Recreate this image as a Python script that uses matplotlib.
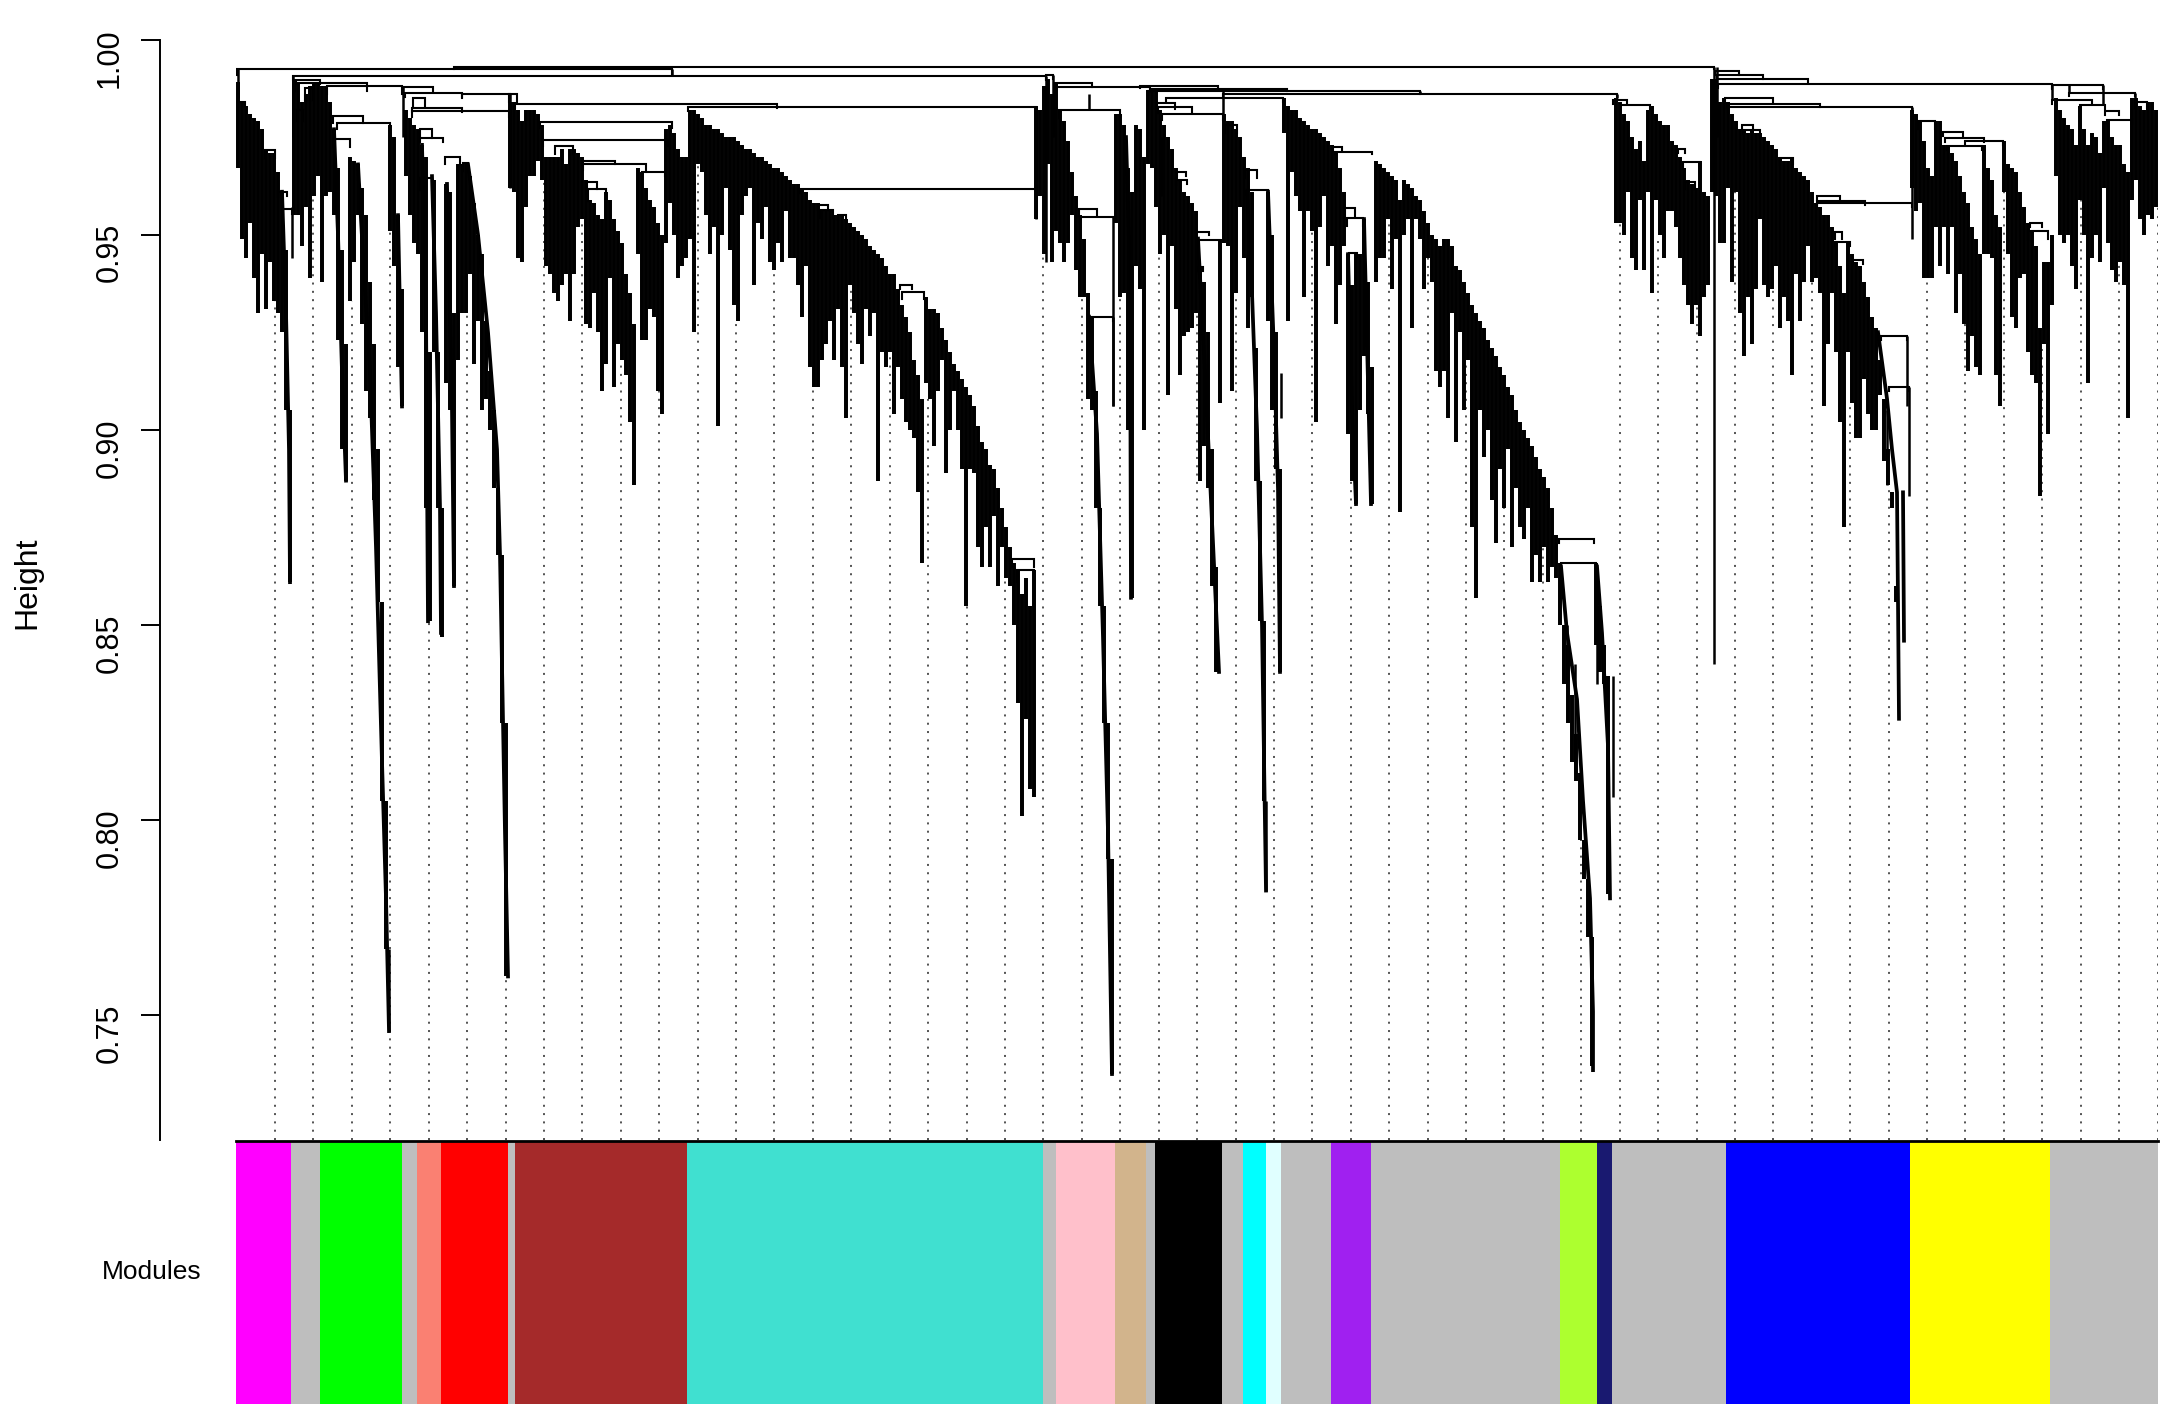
import numpy as np
from matplotlib import pyplot as plt

plt.rcParams['font.family'] = ['Liberation Sans', 'DejaVu Sans']

# Module colour bar: edges are leaf positions, colours are the module names
module_edges = [236, 291, 320, 402, 417, 441, 508, 515, 687, 1043, 1056, 1115, 1146, 1155,
                1222, 1243, 1266, 1281, 1331, 1371, 1560, 1597, 1612, 1726, 1910, 2050, 2158]
module_colors = ['#FF00FF', '#BEBEBE', '#00FF00', '#BEBEBE', '#FA8072', '#FF0000', '#BEBEBE',
                 '#A52A2A', '#40E0D0', '#BEBEBE', '#FFC0CB', '#D2B48C', '#BEBEBE', '#000000',
                 '#BEBEBE', '#00FFFF', '#E0FFFF', '#BEBEBE', '#A020F0', '#BEBEBE', '#ADFF2F',
                 '#191970', '#BEBEBE', '#0000FF', '#FFFF00', '#BEBEBE']

height_ticks = [0.75, 0.80, 0.85, 0.90, 0.95, 1.00]
height_labels = ['0.75', '0.80', '0.85', '0.90', '0.95', '1.00']

# Leaf groups, read every 4 leaf positions. Heights are in thousandths.
# top = where the leaf joins its branch, bot = where the leaf ends
starts_a = 238
top_a = [989, 984, 983, 981, 980, 979, 977, 972, 971, 971, 966, 961, 946, 905]
bot_a = [967, 949, 944, 953, 939, 930, 945, 931, 943, 933, 930, 925, 905, 861]

starts_b = 294
top_b = [990, 989, 984, 986, 988, 989, 989, 988, 988, 984, 977, 967, 946, 922, 970, 969, 968, 962,
         955, 938, 922, 895, 856, 805, 978, 975, 955, 936]
bot_b = [955, 955, 947, 957, 939, 960, 965, 938, 960, 961, 955, 923, 895, 887, 933, 943, 955, 927,
         910, 903, 882, 856, 805, 767, 951, 942, 916, 906]

starts_c = 406
top_c = [982, 980, 978, 977, 973, 970, 920, 964, 920, 880, 963, 961, 930, 968, 968, 968, 965, 958,
         950, 945, 928, 915, 905, 885, 868, 825]
bot_c = [965, 955, 948, 945, 925, 880, 851, 920, 880, 847, 912, 905, 860, 918, 930, 930, 940, 917,
         928, 905, 908, 900, 885, 868, 825, 760]

starts_d = 510
top_d = [984, 984, 982, 979, 982, 982, 982, 981, 978, 970, 970, 970, 970, 972, 968, 972, 972, 971,
         970, 964, 959, 958, 955, 954, 961, 959, 954, 951, 948, 940, 935, 927]
bot_d = [962, 961, 944, 943, 957, 965, 965, 969, 964, 942, 940, 935, 933, 937, 940, 928, 940, 952,
         954, 927, 926, 935, 925, 910, 917, 939, 911, 922, 918, 914, 902, 886]

starts_e = 638
top_e = [967, 966, 962, 959, 957, 953, 950, 977, 978, 976, 972, 970, 970]
bot_e = [945, 923, 923, 931, 929, 910, 904, 948, 958, 950, 939, 942, 944]

starts_f = 690
top_f = [982, 982, 981, 980, 978, 978, 977, 977, 976, 975, 975, 975, 974, 973, 972, 972, 971, 970,
         970, 969, 968, 967, 967, 966, 965, 964, 963, 963]
bot_f = [949, 925, 968, 966, 955, 945, 952, 901, 950, 962, 946, 932, 928, 955, 960, 962, 937, 953,
         949, 957, 943, 941, 948, 943, 956, 944, 944, 937]

starts_g = 802
top_g = [962, 961, 959, 958, 958, 956, 956, 956, 955, 955, 955, 954, 953, 952, 951, 950, 949, 947,
         946, 945, 944, 942, 940, 940, 936, 932, 929, 925, 918, 914, 908,
         934, 931, 931, 930, 926, 923, 920, 917, 915, 913, 911, 909, 906, 901, 897, 895, 891, 890,
         885, 880, 875, 870, 866, 864, 858, 862, 855, 864]
bot_g = [929, 942, 916, 911, 911, 918, 922, 928, 918, 931, 916, 903, 937, 930, 922, 917, 931, 924,
         930, 887, 920, 916, 920, 904, 916, 908, 902, 900, 898, 884, 866,
         912, 908, 896, 910, 918, 889, 900, 910, 900, 890, 855, 890, 889, 870, 865, 875, 865, 878,
         860, 870, 862, 860, 850, 830, 801, 826, 808, 806]

starts_h = 1036
top_h = [983, 982, 988, 990, 986]
bot_h = [954, 960, 945, 968, 943]

starts_i = 1056
top_i = [989, 982, 979, 974, 966, 960, 955, 949, 935, 929, 910, 880, 855, 825, 790]
bot_i = [951, 948, 943, 948, 955, 941, 934, 934, 908, 905, 880, 855, 825, 790, 735]

starts_j = 1116
top_j = [981, 981, 978, 967, 961, 978, 977, 970, 987, 987, 987, 982, 978, 975, 972, 967, 964, 961,
         960, 958, 956, 942, 938, 925, 895, 865, 949, 981, 979, 979, 977, 975, 970, 967, 961, 921,
         887, 851, 961, 950, 925, 890, 985, 983, 982, 982, 980, 979, 978, 977, 977, 976, 975, 974,
         973, 971, 967, 961, 945, 937, 945, 945, 954, 938, 916, 969, 968, 967, 966, 965, 964, 959,
         964, 963, 962, 960, 959, 956, 953, 950, 949, 947]
bot_j = [953, 934, 935, 900, 857, 942, 936, 900, 968, 967, 957, 945, 950, 909, 947, 931, 914, 924,
         925, 926, 930, 887, 896, 885, 860, 838, 907, 948, 947, 910, 935, 957, 944, 926, 934, 887,
         851, 805, 928, 905, 890, 838, 976, 928, 966, 960, 956, 934, 956, 951, 902, 952, 960, 942,
         947, 927, 937, 947, 899, 887, 881, 905, 919, 904, 881, 938, 944, 944, 954, 936, 949, 879,
         950, 954, 926, 954, 949, 936, 944, 938, 915, 911]

starts_k = 1444
top_k = [949, 949, 947, 942, 941, 938, 935, 932, 930, 928, 926, 923, 921, 919, 916, 914, 911, 909,
         905, 902, 900, 898, 896, 893, 890, 888, 885, 880, 873,
         866, 850, 845, 832, 822, 812, 795, 785, 770, 866, 855, 845, 837]
bot_k = [915, 903, 930, 897, 925, 905, 918, 875, 857, 905, 893, 900, 882, 871, 890, 880, 895, 870,
         885, 875, 872, 880, 861, 868, 861, 870, 861, 865, 862,
         850, 835, 825, 815, 810, 795, 785, 770, 737, 845, 838, 835, 781]

starts_l = 1616
top_l = [985, 984, 981, 979, 975, 972, 974, 969, 982, 983, 981, 979, 978, 978, 974, 973, 970, 967,
         964, 963, 962, 969, 961, 960, 990, 990]
bot_l = [953, 953, 950, 961, 944, 941, 959, 941, 961, 935, 959, 950, 944, 956, 956, 952, 944, 937,
         932, 927, 932, 924, 934, 937, 961, 960]

starts_m = 1720
top_m = [984, 985, 984, 981, 979, 977, 977, 976, 977, 976, 976, 975, 974, 973, 972, 970, 969, 969,
         970, 967, 966, 965, 964, 961, 958, 957, 955, 955, 952, 948, 942, 935, 948, 945, 943, 942,
         938, 934, 929, 926, 918, 908, 895, 884, 856]
bot_m = [948, 948, 962, 938, 961, 930, 919, 934, 922, 936, 954, 937, 934, 936, 942, 926, 934, 928,
         914, 940, 928, 938, 947, 938, 939, 935, 906, 922, 935, 920, 902, 875, 920, 907, 898, 898,
         913, 904, 900, 900, 909, 892, 886, 880, 860]

starts_n = 1912
top_n = [982, 981, 979, 974, 967, 965, 979, 979, 973, 973, 971, 969, 965, 961, 958, 952, 949, 945,
         973, 967, 964, 955, 952, 974, 968, 967, 966, 961, 957, 953, 951, 947, 926, 943, 943, 950]
bot_n = [962, 956, 958, 939, 939, 939, 952, 942, 952, 940, 952, 930, 940, 927, 915, 924, 916, 914,
         945, 945, 944, 914, 906, 961, 945, 929, 926, 939, 940, 920, 914, 912, 883, 922, 899, 932]

starts_o = 2056
top_o = [985, 982, 980, 978, 977, 973, 983, 977, 973, 976, 975, 971, 979, 979, 975, 973, 973, 968,
         966, 985, 985, 983, 982, 984, 984, 982]
bot_o = [965, 950, 948, 950, 942, 936, 959, 950, 912, 944, 950, 943, 962, 948, 941, 938, 943, 937,
         903, 959, 964, 954, 950, 955, 954, 957]

leaf_groups = [(starts_a, top_a, bot_a), (starts_b, top_b, bot_b), (starts_c, top_c, bot_c),
               (starts_d, top_d, bot_d), (starts_e, top_e, bot_e), (starts_f, top_f, bot_f),
               (starts_g, top_g, bot_g), (starts_h, top_h, bot_h), (starts_i, top_i, bot_i),
               (starts_j, top_j, bot_j), (starts_k, top_k, bot_k), (starts_l, top_l, bot_l),
               (starts_m, top_m, bot_m), (starts_n, top_n, bot_n), (starts_o, top_o, bot_o)]

# Long thin branches that run down through many leaves (position, height in thousandths)
tails = [
    ([282, 286, 289, 290], [961, 930, 895, 861]),
    ([358, 364, 370, 376, 382, 386, 389], [968, 940, 915, 870, 815, 780, 746]),
    ([334, 338, 342, 346], [977, 950, 915, 887]),
    ([398, 400, 402], [955, 930, 906]),
    ([422, 426, 428], [973, 930, 851]),
    ([432, 436, 440, 441], [965, 930, 880, 848]),
    ([447, 452, 454], [963, 905, 860]),
    ([468, 478, 488, 497, 500, 505, 508], [968, 950, 925, 895, 868, 797, 760]),
    ([1089, 1097, 1103, 1108, 1112], [929, 899, 847, 797, 735]),
    ([1126, 1130, 1131], [975, 940, 857]),
    ([1198, 1205, 1215, 1219], [949, 915, 860, 838]),
    ([1247, 1252, 1257, 1262, 1266], [961, 935, 900, 850, 782]),
    ([1268, 1274, 1278, 1280], [961, 920, 885, 838]),
    ([1348, 1352, 1356], [945, 905, 881]),
    ([1364, 1371], [954, 881]),
    ([1561, 1567, 1577, 1583, 1590, 1593, 1593], [865, 848, 831, 805, 780, 751, 736]),
    ([1597, 1602, 1608, 1610], [865, 848, 819, 780]),
    ([1878, 1887, 1892, 1897, 1898, 1899], [925, 908, 895, 884, 856, 826]),
    ([1903, 1904], [884, 846]),
]

# Branches: left leaf, right leaf, join height, length of the two arms
link_left = [454, 237, 293, 1046, 295, 305, 297, 296, 327, 403, 405, 462, 412, 412, 413, 420, 420,
             420, 445, 463, 337, 333, 333, 265, 283, 238, 278, 509, 515, 688, 540, 543, 555, 583,
             583, 642, 588, 587, 800, 818, 820, 838, 902, 900, 1012, 1017,
             1056, 1056, 1140, 1150, 1148, 1223, 1166, 1157, 1158, 1162, 1059, 1080, 1089, 1079,
             1225, 1245, 1247, 1335, 1333, 1345, 1347, 1349, 1198, 1196, 1198, 1177, 1176, 1559,
             1561, 1715, 1717, 1717, 1718, 2052, 2069, 2052, 2080, 2105, 2107, 2135, 1725, 1727,
             1728, 1817, 1817, 1817, 1620, 1613, 1683, 1685, 1678, 1743, 1742, 1780, 1835, 1835,
             1853, 1918, 1943, 1945, 1965, 1947, 2028, 2030, 1881, 1889]
link_right = [1714, 672, 1046, 1053, 367, 313, 303, 320, 402, 433, 462, 510, 509, 462, 425, 432, 443,
              432, 460, 468, 390, 363, 350, 275, 292, 245, 287, 517, 777, 1036, 672, 668, 573, 615,
              646, 665, 606, 597, 1036, 828, 833, 846, 924, 912, 1034, 1034,
              1092, 1150, 1218, 1287, 1420, 1617, 1283, 1175, 1192, 1223, 1120, 1115, 1113, 1097,
              1237, 1257, 1268, 1372, 1342, 1355, 1363, 1357, 1220, 1209, 1203, 1186, 1187, 1594,
              1596, 1739, 1763, 1808, 2052, 2103, 2135, 2092, 2105, 2119, 2132, 2147, 1773, 1820,
              1912, 1840, 1865, 1912, 1650, 1627, 1700, 1695, 1685, 1760, 1753, 1793, 1842, 1850,
              1863, 1935, 1963, 1984, 2003, 1982, 2048, 2042, 1907, 1909]
link_h = [993, 992.4, 990.6, 990.9, 988.8, 987.5, 982, 989.6, 988, 987.9, 986.2, 986, 981.7, 982.5,
          985, 977.2, 974.7, 964.4, 970, 968.3, 978.7, 980.4, 974.5, 971.7, 956.7, 984, 961, 986,
          983.5, 982.8, 978.8, 974.2, 972.7, 969, 968, 966.1, 961.6, 963.6, 961.7, 957.6, 956.3,
          955, 935.4, 937, 867, 864,
          988.9, 987.8, 988, 987.2, 986.8, 986, 985, 983.7, 982.6, 981, 982, 954.6, 929, 956.7,
          978, 966.6, 961.5, 971.3, 972.5, 956.8, 954.2, 945.4, 948.6, 950.8, 941.8, 966, 964,
          872, 866, 992, 991, 990, 988.6, 988.3, 986.4, 984.5, 983.2, 981.7, 979.5, 984, 985,
          983.6, 982.6, 960, 958.6, 958.2, 983.2, 984.5, 968.7, 963.6, 972, 976.8, 978, 969.6,
          950.8, 948.2, 943.5, 979, 976.4, 974.7, 974, 972.8, 951, 953, 924, 911]
link_drop = [0.6, 1.6, 1, 1, 2, 3, 3, 1, 2, 1, 1, 1, 1.5, 1, 2, 2.5, 1, 3, 2, 2, 1.5, 1.7, 2, 2,
             1.5, 1, 1, 2, 1, 1, 1.5, 1.5, 2, 1, 1.5, 1, 3, 2, 1, 1, 2, 1, 2, 1, 2, 3,
             1, 1, 0.5, 0.5, 0.8, 1, 1, 1.5, 1.5, 1.5, 2, 1, 1, 2,
             2, 2, 1, 0.7, 1, 2, 2, 1, 2, 1, 1, 1, 1, 1, 1, 1, 1, 1, 1, 1, 1, 1, 1, 1, 1, 1.5, 1,
             1, 1, 1, 1, 1, 1, 1, 2, 2, 1, 1, 1, 1.5, 2, 1, 1, 2, 1, 1, 1, 1, 2, 1, 1, 1]

# Single long stems and needles that stand out of the leaf groups
stem_x = [1714, 1912, 1036, 238, 293, 1046, 1053, 672, 454, 510, 403, 1420, 1617, 1223, 1717, 2052,
          2103, 2135, 2069, 291.5, 388.5, 1266, 1281, 1907, 1909, 1113, 1613, 1089, 1161, 1113,
          1567, 1575, 1597, 1887]
stem_top = [993, 982.6, 982.8, 992.4, 990.6, 990.6, 990.9, 992.4, 993, 986, 988, 986.8, 986, 986.8,
            993, 988.6, 988.3, 986.4, 988.3, 957, 767, 805, 914.5, 924, 911, 954.6, 837, 986, 975,
            929, 850, 840, 860, 905]
stem_bot = [840, 949, 954, 985, 975, 943, 975, 990.6, 992.4, 962, 975, 986, 985, 981, 975, 984.5,
            983.2, 984, 986.4, 944, 746, 782, 903, 906, 883, 906, 806, 982, 960, 906,
            834, 812, 835, 886]

fig = plt.figure(figsize=(21.77, 14.04), dpi=100)
ax = fig.add_axes([236 / 2177, 1 - 1140 / 1404, 1922 / 2177, (1140 - 39.5) / 1404])
bar_ax = fig.add_axes([236 / 2177, 0, 1922 / 2177, 1 - 1141 / 1404])

# Collect leaves
leaf_x = []
leaf_top = []
leaf_bot = []
for start, tops, bots in leaf_groups:
    leaf_x.extend(start + 4 * i for i in range(len(tops)))
    leaf_top.extend(tops)
    leaf_bot.extend(bots)
leaf_x = np.array(leaf_x, dtype=float)
leaf_top = np.array(leaf_top) / 1000
leaf_bot = np.array(leaf_bot) / 1000

# Guide lines hang from the colour bar up to the leaf above them
guide_x = 275 + 38.42 * np.arange(50)
guide_top = leaf_bot[[np.argmin(np.abs(leaf_x - g)) for g in guide_x]]
ax.vlines(guide_x, 0.718, guide_top, colors='#444444', linewidth=1.3,
          linestyles=(0, (1.1, 3.5)), zorder=1)

ax.vlines(leaf_x, leaf_bot, leaf_top, colors='black', linewidth=2.85, zorder=2)
ax.vlines(stem_x, np.array(stem_bot) / 1000, np.array(stem_top) / 1000, colors='black',
          linewidth=1.8, zorder=2)

for tail_x, tail_h in tails:
    ax.plot(tail_x, np.array(tail_h) / 1000, color='black', linewidth=2.7, zorder=2)

# Branches as small U shapes
for xl, xr, h, d in zip(link_left, link_right, link_h, link_drop):
    ax.plot([xl, xl, xr, xr], [(h - d) / 1000, h / 1000, h / 1000, (h - d) / 1000], color='black',
            linewidth=1.5, solid_joinstyle='miter', zorder=3)

ax.set_xlim(module_edges[0], module_edges[-1])
ax.set_ylim(0.7181, 1.0)
ax.set_xticks([])
ax.set_yticks(height_ticks)
ax.set_yticklabels(height_labels)
ax.tick_params(axis='y', length=13.7, width=1.4, pad=12, labelsize=22, labelrotation=90)
for label in ax.get_yticklabels():
    label.set_va('center')
for side in ['top', 'right', 'bottom']:
    ax.spines[side].set_visible(False)
ax.spines['left'].set_position(('outward', 54.7))
ax.spines['left'].set_linewidth(1.4)
ax.patch.set_alpha(0)

# Module colour bar
bar_ax.bar(module_edges[:-1], 1, width=np.diff(module_edges), align='edge', color=module_colors,
           linewidth=0)
bar_ax.axhline(1, color='black', linewidth=2, clip_on=False)
bar_ax.set_xlim(module_edges[0], module_edges[-1])
bar_ax.set_ylim(0, 1)
bar_ax.axis('off')

fig.text(27 / 2177, 1 - 583 / 1404, 'Height', rotation=90, ha='center', va='center', fontsize=23)
fig.text(201 / 2177, 1 - 1272 / 1404, 'Modules', ha='right', va='center', fontsize=19)

fig.savefig('out.png', dpi=100)
